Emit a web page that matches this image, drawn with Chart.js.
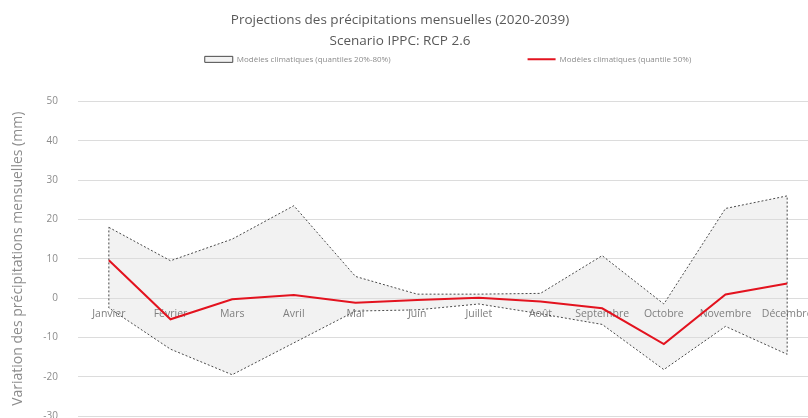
<!DOCTYPE html>
<html><head><meta charset="utf-8">
<script src="https://cdn.jsdelivr.net/npm/chart.js@4/dist/chart.umd.min.js"></script>
<style>html,body{margin:0;padding:0;background:#fff;overflow:hidden;width:808px;height:418px}#wrap{position:absolute;left:0;top:0;width:830px;height:442px}</style>
</head><body><div id="wrap"><canvas id="c" width="830" height="442"></canvas></div>
<script>
const categories = ['Janvier','Février','Mars','Avril','Mai','Juin','Juillet','Août','Septembre','Octobre','Novembre','Décembre'];
const quantile80 = [18, 9.5, 15, 23.5, 5.5, 1, 1, 1.2, 10.8, -1.5, 22.8, 26];
const quantile20 = [-2.5, -13, -19.5, -11.4, -3.3, -3, -1.5, -4, -6.7, -18.2, -7.2, -14.3];
const quantile50 = [9.6, -5.4, -0.3, 0.8, -1.2, -0.5, 0.1, -0.9, -2.6, -11.7, 0.9, 3.7];
const yTickValues = [50, 40, 30, 20, 10, 0, -10, -20, -30];
const titleLines = ['Projections des précipitations mensuelles (2020-2039)', 'Scenario IPPC: RCP 2.6'];
const seriesNames = ['Modèles climatiques (quantiles 20%-80%)', 'Modèles climatiques (quantile 50%)'];
const yTitle = 'Variation des précipitations mensuelles (mm)';

// closed polygon for the 20%-80% band
const band = categories.map((c, i) => ({x: c, y: quantile80[i]}))
  .concat(categories.slice().reverse().map((c, k) => ({x: c, y: quantile20[categories.length - 1 - k]})));
band.push({x: categories[0], y: quantile80[0]});

const FONT = "'Open Sans', sans-serif";
const NB = '\u00a0';
new Chart(document.getElementById('c'), {
  type: 'line',
  data: {
    labels: categories,
    datasets: [
      {label: seriesNames[0], data: band, fill: 'shape', backgroundColor: '#f2f2f2', borderColor: '#4a4a4a',
       borderWidth: 1, borderDash: [2, 2], pointRadius: 0, pointStyle: 'rect', tension: 0, order: 2},
      {label: seriesNames[1], data: quantile50, fill: false, borderColor: '#e3131f', backgroundColor: '#e3131f',
       borderWidth: 2, pointRadius: 0, pointStyle: 'line', tension: 0, order: 1}
    ]
  },
  options: {
    responsive: false, animation: false,
    layout: {padding: {left: -18, right: 12, top: 0, bottom: 0}},
    plugins: {
      filler: {drawTime: 'beforeDraw'},
      title: {display: true, text: titleLines, color: '#595959', font: {family: FONT, size: 13.5, weight: 'normal', lineHeight: 1.55}, padding: {top: 9.5, bottom: 0}},
      subtitle: {display: true, text: ' ', weight: 500, font: {size: 1}, padding: {top: 27, bottom: 0}},
      legend: {display: true, position: 'top', fullSize: false,
        labels: {usePointStyle: true, pointStyleWidth: 28, boxHeight: 6, color: '#8c8c8c', padding: 4,
                 font: {family: FONT, size: 8},
                 sort: (a, b) => a.datasetIndex - b.datasetIndex,
                 generateLabels: chart => {
                   const items = Chart.defaults.plugins.legend.labels.generateLabels(chart);
                   items.forEach(it => { if (it.datasetIndex === 0) it.text += NB.repeat(64); });
                   return items;
                 }}},
      tooltip: {enabled: false}
    },
    scales: {
      x: {type: 'category', offset: true, position: {y: 0},
          grid: {display: false}, border: {display: false},
          ticks: {color: '#7f7f7f', font: {family: FONT, size: 10.5}, padding: 2, maxRotation: 0, autoSkip: false}},
      y: {min: -30, max: 50,
          afterBuildTicks: s => { s.ticks = yTickValues.map(v => ({value: v})); },
          afterFit: s => { s.width = 96; },
          grid: {color: '#dcdcdc', drawTicks: false}, border: {display: false},
          ticks: {color: '#8c8c8c', font: {family: FONT, size: 10}, padding: 20},
          title: {display: true, text: yTitle, color: '#8c8c8c', font: {family: FONT, size: 14}, padding: {top: 27.5, bottom: 0}}}
    }
  }
});
</script></body></html>
